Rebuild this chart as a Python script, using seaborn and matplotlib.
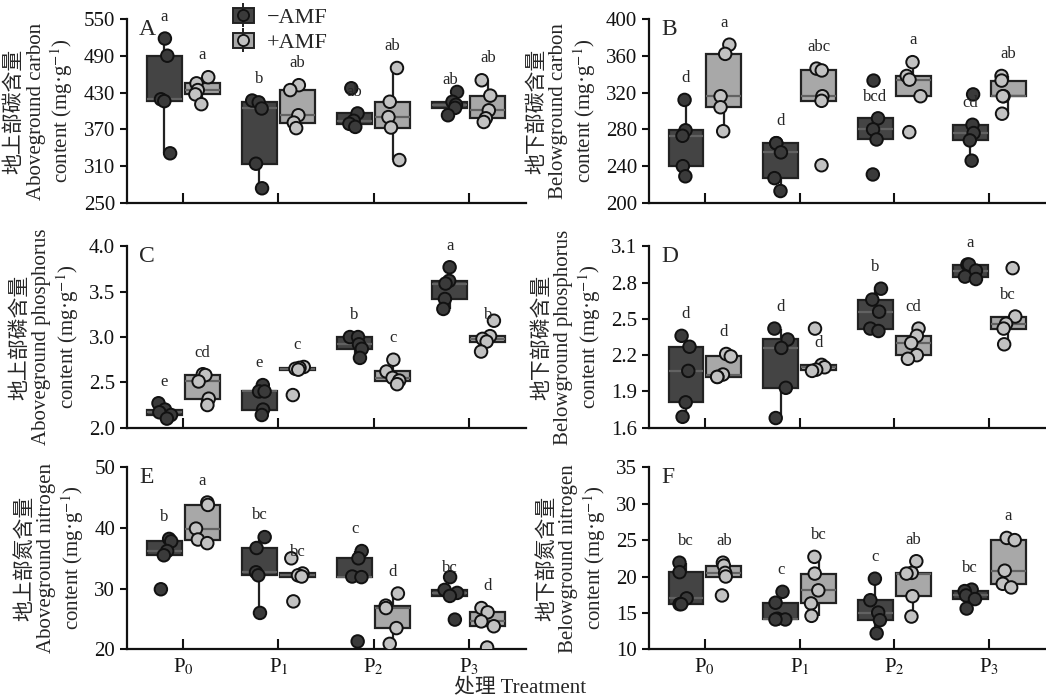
import numpy as np
import pandas as pd
import matplotlib
matplotlib.use("Agg")
import matplotlib.pyplot as plt
import seaborn as sns
from matplotlib.patches import Patch
from matplotlib.lines import Line2D
from matplotlib.legend_handler import HandlerTuple

# données (5 répétitions par groupe)
treatments = ["P0", "P1", "P2", "P3"]
tick_labels = [r"P$_0$", r"P$_1$", r"P$_2$", r"P$_3$"]
amf_levels = ["−AMF", "+AMF"]

# A : carbone partie aérienne
ag_c_minus = [[518, 490, 419, 416, 331], [417, 414, 404, 314, 274],
              [437, 396, 384, 379, 374], [431, 415, 410, 405, 393]]
ag_c_plus = [[455, 445, 434, 427, 411], [442, 434, 393, 381, 372],
             [470, 415, 390, 373, 320], [450, 425, 401, 388, 382]]
ag_c_let_minus = ["a", "b", "ab", "ab"]
ag_c_let_plus = ["a", "ab", "ab", "ab"]

# B : carbone partie souterraine
bg_c_minus = [[312, 279, 273, 240, 229], [265, 265, 255, 227, 213],
              [333, 292, 280, 269, 231], [318, 285, 276, 268, 246]]
bg_c_plus = [[372, 362, 316, 304, 278], [346, 344, 316, 311, 241],
             [353, 338, 334, 316, 277], [338, 333, 316, 316, 297]]
bg_c_let_minus = ["d", "d", "bcd", "cd"]
bg_c_let_plus = ["a", "abc", "a", "ab"]

# C : phosphore partie aérienne
ag_p_minus = [[2.27, 2.20, 2.17, 2.14, 2.10], [2.47, 2.40, 2.40, 2.20, 2.14],
              [3.00, 3.00, 2.92, 2.87, 2.77], [3.77, 3.62, 3.59, 3.42, 3.31]]
ag_p_plus = [[2.59, 2.58, 2.51, 2.32, 2.25], [2.67, 2.66, 2.65, 2.64, 2.36],
             [2.75, 2.62, 2.55, 2.52, 2.48], [3.18, 3.01, 2.98, 2.95, 2.84]]
ag_p_let_minus = ["e", "e", "b", "a"]
ag_p_let_plus = ["cd", "c", "c", "b"]

# D : phosphore partie souterraine
bg_p_minus = [[2.36, 2.27, 2.07, 1.81, 1.69], [2.42, 2.33, 2.26, 1.93, 1.68],
              [2.75, 2.66, 2.56, 2.42, 2.40], [2.95, 2.95, 2.90, 2.85, 2.83]]
bg_p_plus = [[2.21, 2.19, 2.04, 2.02, 2.02], [2.42, 2.12, 2.10, 2.08, 2.07],
             [2.42, 2.36, 2.30, 2.20, 2.17], [2.92, 2.52, 2.46, 2.42, 2.29]]
bg_p_let_minus = ["d", "d", "b", "a"]
bg_p_let_plus = ["d", "d", "cd", "bc"]

# E : azote partie aérienne
ag_n_minus = [[38.2, 37.8, 36.2, 35.5, 29.9], [38.5, 36.7, 32.7, 32.2, 26.0],
              [36.2, 35.0, 32.0, 31.9, 21.3], [31.9, 29.8, 29.3, 28.8, 24.9]]
ag_n_plus = [[44.2, 43.8, 39.9, 38.1, 37.5], [35.0, 32.5, 32.2, 32.0, 27.9],
             [29.2, 27.2, 26.8, 23.5, 20.9], [26.8, 26.1, 24.6, 23.8, 20.3]]
ag_n_let_minus = ["b", "bc", "c", "bc"]
ag_n_let_plus = ["a", "bc", "d", "d"]

# F : azote partie souterraine
bg_n_minus = [[21.9, 20.6, 17.0, 16.2, 16.2], [17.9, 16.4, 14.2, 14.1, 14.1],
              [19.7, 16.75, 15.05, 14.0, 12.2], [18.2, 18.0, 17.4, 16.9, 15.6]]
bg_n_plus = [[21.9, 21.5, 20.5, 20.0, 17.4], [22.7, 20.4, 18.1, 16.3, 14.6],
             [22.1, 20.5, 20.4, 17.3, 14.5], [25.3, 25.0, 20.8, 19.0, 18.5]]
bg_n_let_minus = ["bc", "c", "c", "bc"]
bg_n_let_plus = ["ab", "bc", "ab", "a"]

BOX_COLORS = ["#444444", "#a8a8a8"]
PT_COLORS = ["#3a3a3a", "#c2c2c2"]
EDGE = "#222222"
FONTS = ["Liberation Serif", "Noto Sans CJK SC"]


def to_frame(minus, plus):
    rows = []
    for amf, groups in zip(amf_levels, [minus, plus]):
        for trt, vals in zip(treatments, groups):
            for v in vals:
                rows.append((trt, amf, v))
    return pd.DataFrame(rows, columns=["trt", "amf", "value"])


def whisker_top(vals):
    q1, q3 = np.percentile(vals, [25, 75])
    lim = q3 + 1.5 * (q3 - q1)
    return max(v for v in vals if v <= lim)


def panel(ax, minus, plus, let_minus, let_plus, yticks, fmt, ylabel, tag, bottom_row):
    df = to_frame(minus, plus)
    sns.boxplot(data=df, x="trt", y="value", hue="amf", order=treatments,
                hue_order=amf_levels, palette=BOX_COLORS, saturation=1,
                width=0.8, gap=0.08, whis=1.5, showfliers=False, showcaps=False,
                linecolor=EDGE, linewidth=1.6,
                medianprops=dict(color="#626262", linewidth=1.6),
                legend=False, ax=ax)
    sns.stripplot(data=df, x="trt", y="value", hue="amf", order=treatments,
                  hue_order=amf_levels, palette=PT_COLORS, dodge=True,
                  jitter=0.16, size=9, linewidth=1.4, edgecolor="#111111",
                  legend=False, ax=ax)

    span = yticks[-1] - yticks[0]
    for i in range(len(treatments)):
        for off, groups, lets in [(-0.2, minus, let_minus), (0.2, plus, let_plus)]:
            y = whisker_top(groups[i]) + 0.075 * span
            ax.text(i + off, y, lets[i], ha="center", va="bottom",
                    fontsize=12, family=FONTS)

    ax.set_xlim(-0.59, 3.6)
    ax.set_ylim(yticks[0], yticks[-1])
    ax.set_yticks(yticks)
    ax.set_yticklabels([fmt.format(t) for t in yticks], family=FONTS, fontsize=15)
    ax.set_xticks(range(len(treatments)))
    if bottom_row:
        ax.set_xticklabels(tick_labels, family=FONTS, fontsize=15)
    else:
        ax.set_xticklabels([])
    ax.set_xlabel("")
    ax.set_ylabel(ylabel, family=FONTS, fontsize=15, linespacing=1.15, labelpad=6)
    sns.despine(ax=ax)
    for s in ["left", "bottom"]:
        ax.spines[s].set_linewidth(1.6)
        ax.spines[s].set_color("#111111")
    ax.tick_params(axis="y", direction="out", length=5, width=1.5, colors="#111111")
    ax.tick_params(axis="x", direction="in", length=7, width=1.5, colors="#111111", pad=5)
    ax.text(0.03, 1.0, tag, transform=ax.transAxes, ha="left", va="top",
            fontsize=17, family=FONTS)


sns.set_style("ticks")
plt.rcParams["font.family"] = FONTS
plt.rcParams["mathtext.fontset"] = "stix"
np.random.seed(3)

fig = plt.figure(figsize=(10.46, 7.0), dpi=100)
L = [0.1214, 0.3815]
R = [0.6205, 0.3795]
rows = [(0.710, 0.263), (0.389, 0.259), (0.0724, 0.260)]

ax_a = fig.add_axes([L[0], rows[0][0], L[1], rows[0][1]])
ax_b = fig.add_axes([R[0], rows[0][0], R[1], rows[0][1]])
ax_c = fig.add_axes([L[0], rows[1][0], L[1], rows[1][1]])
ax_d = fig.add_axes([R[0], rows[1][0], R[1], rows[1][1]])
ax_e = fig.add_axes([L[0], rows[2][0], L[1], rows[2][1]])
ax_f = fig.add_axes([R[0], rows[2][0], R[1], rows[2][1]])

unit = "content (mg·g$^{-1}$)"
panel(ax_a, ag_c_minus, ag_c_plus, ag_c_let_minus, ag_c_let_plus,
      [250, 310, 370, 430, 490, 550], "{:.0f}",
      "地上部碳含量\nAboveground carbon\n" + unit, "A", False)
panel(ax_b, bg_c_minus, bg_c_plus, bg_c_let_minus, bg_c_let_plus,
      [200, 240, 280, 320, 360, 400], "{:.0f}",
      "地下部碳含量\nBelowground carbon\n" + unit, "B", False)
panel(ax_c, ag_p_minus, ag_p_plus, ag_p_let_minus, ag_p_let_plus,
      [2.0, 2.5, 3.0, 3.5, 4.0], "{:.1f}",
      "地上部磷含量\nAboveground phosphorus\n" + unit, "C", False)
panel(ax_d, bg_p_minus, bg_p_plus, bg_p_let_minus, bg_p_let_plus,
      [1.6, 1.9, 2.2, 2.5, 2.8, 3.1], "{:.1f}",
      "地下部磷含量\nBelowground phosphorus\n" + unit, "D", False)
panel(ax_e, ag_n_minus, ag_n_plus, ag_n_let_minus, ag_n_let_plus,
      [20, 30, 40, 50], "{:.0f}",
      "地上部氮含量\nAboveground nitrogen\n" + unit, "E", True)
panel(ax_f, bg_n_minus, bg_n_plus, bg_n_let_minus, bg_n_let_plus,
      [10, 15, 20, 25, 30, 35], "{:.0f}",
      "地下部氮含量\nBelowground nitrogen\n" + unit, "F", True)

# légende façon boîte + point
handles = []
for bc, pc in zip(BOX_COLORS, PT_COLORS):
    handles.append((Patch(facecolor=bc, edgecolor=EDGE, linewidth=1.4),
                    Line2D([], [], marker="|", markersize=17, color=EDGE,
                           markeredgewidth=1.4, linestyle="none"),
                    Line2D([], [], marker="o", markersize=8, markerfacecolor=pc,
                           markeredgecolor="#111111", markeredgewidth=1.3,
                           linestyle="none")))
ax_a.legend(handles, amf_levels, handler_map={tuple: HandlerTuple(ndivide=1)},
            loc="upper left", bbox_to_anchor=(0.215, 1.17), frameon=False,
            prop={"family": FONTS, "size": 16}, handlelength=0.95,
            handleheight=0.7, labelspacing=0.2, handletextpad=0.6)

fig.text(0.497, 0.003, "处理 Treatment", ha="center", va="bottom",
         fontsize=15, family=FONTS)

fig.savefig("out.png", dpi=100)
